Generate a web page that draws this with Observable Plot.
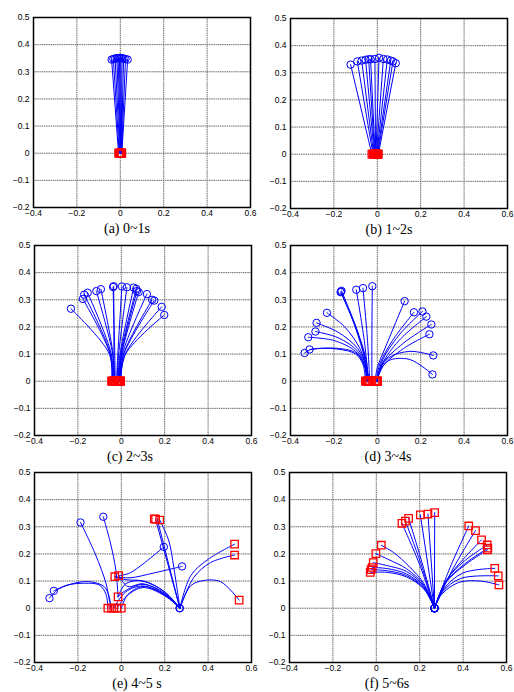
<!DOCTYPE html>
<html><head><meta charset="utf-8">
<script src="https://cdn.jsdelivr.net/npm/d3@7"></script>
<script src="https://cdn.jsdelivr.net/npm/@observablehq/plot@0.6"></script>
<style>
body{margin:0;background:#fff;}
#fig{position:relative;width:514px;height:692px;background:#fff;overflow:hidden;}
.cap{position:absolute;width:200px;text-align:center;font-family:"Liberation Serif",serif;font-size:14px;color:#000;line-height:16px;}
</style></head>
<body><div id="fig"></div>
<script>
// ---- data ----
const xTicks = [-0.4, -0.2, 0, 0.2, 0.4, 0.6];
const yTicks = [-0.2, -0.1, 0, 0.1, 0.2, 0.3, 0.4, 0.5];
const captions = ["(a) 0~1s", "(b) 1~2s", "(c) 2~3s", "(d) 3~4s", "(e) 4~5 s", "(f) 5~6s"];

// trajectories: flat lists x0,y0,x1,y1,...
const trajA = [
  [-0.008,0, -0.040,0.345], [-0.005,0, -0.032,0.347], [-0.002,0, -0.024,0.349],
  [0.0,0, -0.016,0.350], [0.002,0, -0.010,0.350], [0.002,0, -0.004,0.351],
  [0.003,0, 0.002,0.351], [0.004,0, 0.008,0.350], [0.005,0, 0.015,0.349],
  [0.006,0, 0.024,0.347], [0.007,0, 0.034,0.345]
];
const trajB = [
  [-0.025,0, -0.123,0.330], [-0.02,0, -0.092,0.342], [-0.017,0, -0.072,0.345],
  [-0.014,0, -0.054,0.348], [-0.012,0, -0.040,0.350], [-0.01,0, -0.031,0.350],
  [-0.008,0, -0.011,0.351], [-0.006,0, 0.008,0.355], [-0.004,0, 0.028,0.351],
  [-0.002,0, 0.046,0.349], [0.0,0, 0.062,0.345], [0.002,0, 0.072,0.342],
  [0.005,0, 0.085,0.335]
];
const trajC = [
  [-0.045,0, -0.055,0.1, -0.232,0.267],
  [-0.042,0, -0.052,0.1, -0.177,0.303],
  [-0.04,0, -0.05,0.1, -0.171,0.319],
  [-0.037,0, -0.046,0.1, -0.155,0.326],
  [-0.034,0, -0.04,0.1, -0.115,0.332],
  [-0.031,0, -0.038,0.1, -0.094,0.339],
  [-0.035,0, -0.034,0.1, -0.035,0.350],
  [-0.028,0, -0.03,0.1, -0.038,0.347],
  [-0.022,0, -0.016,0.1, 0.003,0.349],
  [-0.02,0, -0.012,0.1, 0.026,0.346],
  [-0.016,0, -0.006,0.1, 0.057,0.345],
  [-0.014,0, -0.003,0.1, 0.069,0.340],
  [-0.012,0, 0.0,0.1, 0.072,0.332],
  [-0.01,0, 0.002,0.1, 0.080,0.328],
  [-0.008,0, 0.005,0.1, 0.118,0.321],
  [-0.006,0, 0.01,0.1, 0.142,0.300],
  [-0.005,0, 0.012,0.1, 0.152,0.297],
  [-0.004,0, 0.018,0.1, 0.186,0.274],
  [-0.003,0, 0.02,0.1, 0.198,0.244]
];
const trajD = [
  [-0.055,0, -0.065,0.06, -0.1,0.1, -0.18,0.118, -0.3,0.118, -0.335,0.104],
  [-0.05,0, -0.06,0.06, -0.1,0.105, -0.2,0.122, -0.312,0.117],
  [-0.045,0, -0.06,0.06, -0.1,0.11, -0.2,0.15, -0.318,0.162],
  [-0.045,0, -0.055,0.05, -0.09,0.11, -0.18,0.16, -0.285,0.183],
  [-0.04,0, -0.05,0.05, -0.09,0.12, -0.18,0.18, -0.280,0.215],
  [-0.04,0, -0.05,0.05, -0.08,0.12, -0.15,0.2, -0.232,0.252],
  [-0.045,0, -0.055,0.08, -0.1,0.2, -0.169,0.328],
  [-0.042,0, -0.052,0.08, -0.098,0.2, -0.165,0.333],
  [-0.048,0, -0.058,0.08, -0.102,0.2, -0.167,0.330],
  [-0.04,0, -0.06,0.15, -0.097,0.337],
  [-0.035,0, -0.045,0.15, -0.066,0.343],
  [-0.025,0, -0.025,0.15, -0.023,0.350],
  [-0.01,0, 0.0,0.05, 0.04,0.13, 0.126,0.295],
  [-0.005,0, 0.01,0.06, 0.07,0.15, 0.169,0.254],
  [0.0,0, 0.02,0.07, 0.1,0.17, 0.208,0.257],
  [0.0,0, 0.02,0.06, 0.1,0.15, 0.226,0.238],
  [0.0,0, 0.02,0.06, 0.12,0.14, 0.249,0.209],
  [0.0,0, 0.02,0.05, 0.12,0.12, 0.240,0.173],
  [0.0,0, 0.005,0.03, 0.05,0.085, 0.15,0.11, 0.258,0.095],
  [0.0,0, 0.01,0.03, 0.05,0.075, 0.15,0.08, 0.254,0.025]
];
const trajE = [
  [-0.05,0, -0.055,0.04, -0.08,0.08, -0.14,0.097, -0.2,0.095, -0.29,0.07, -0.331,0.037],
  [-0.062,0, -0.07,0.05, -0.1,0.085, -0.17,0.092, -0.25,0.085, -0.311,0.064],
  [-0.045,0, -0.055,0.03, -0.07,0.09, -0.12,0.2, -0.188,0.316],
  [-0.015,0.042, -0.025,0.14, -0.05,0.24, -0.083,0.337],
  [-0.012,0.12, 0.04,0.13, 0.196,0.226],
  [-0.03,0.116, 0.04,0.112, 0.15,0.13, 0.28,0.154],
  [0.27,0, 0.2,0.06, 0.1,0.1, 0.02,0.09, -0.015,0.042],
  [0.27,0, 0.2,0.055, 0.1,0.088, 0.02,0.065, -0.015,0.042],
  [0.27,0, 0.2,0.05, 0.1,0.08, 0.03,0.05, 0.0,0.0],
  [0.27,0, 0.2,0.046, 0.1,0.076, 0.025,0.045, -0.02,0.0],
  [0.27,0, 0.2,0.048, 0.1,0.082, 0.02,0.06, -0.035,0.0],
  [0.27,0, 0.2,0.052, 0.1,0.09, 0.03,0.08, -0.012,0.12],
  [0.27,0, 0.2,0.06, 0.1,0.1, 0.02,0.105, -0.03,0.116],
  [0.27,0, 0.158,0.328],
  [0.27,0, 0.165,0.33],
  [0.27,0, 0.242,0.15, 0.219,0.248, 0.177,0.325],
  [0.27,0, 0.334,0.113, 0.411,0.168, 0.522,0.196],
  [0.27,0, 0.32,0.12, 0.4,0.18, 0.522,0.236],
  [0.27,0, 0.319,0.082, 0.373,0.101, 0.457,0.098, 0.543,0.03]
];
const circE = [[-0.188,0.316], [-0.083,0.337], [-0.311,0.064], [-0.331,0.037], [0.196,0.226], [0.28,0.154], [0.268,0], [0.27,0]];
const sqE = [[0.152,0.329], [0.158,0.328], [0.177,0.325], [0.522,0.236], [0.522,0.196], [0.543,0.03],
  [-0.03,0.116], [-0.012,0.12], [-0.015,0.042], [-0.062,0], [-0.045,0], [-0.035,0], [-0.02,0], [0.0,0]];
const trajF = [
  [0.268,0, 0.22,0.07, 0.14,0.115, 0.05,0.132, -0.028,0.132],
  [0.268,0, 0.22,0.073, 0.14,0.12, 0.05,0.138, -0.024,0.142],
  [0.268,0, 0.22,0.076, 0.14,0.126, 0.05,0.146, -0.019,0.150],
  [0.268,0, 0.22,0.08, 0.14,0.135, 0.05,0.157, -0.014,0.168],
  [0.268,0, 0.22,0.085, 0.14,0.145, 0.06,0.178, -0.002,0.201],
  [0.268,0, 0.22,0.09, 0.15,0.155, 0.08,0.205, 0.023,0.232],
  [0.268,0, 0.2,0.16, 0.118,0.313],
  [0.268,0, 0.205,0.165, 0.134,0.321],
  [0.268,0, 0.21,0.17, 0.149,0.331],
  [0.268,0, 0.203,0.344],
  [0.268,0, 0.238,0.347],
  [0.268,0, 0.269,0.352],
  [0.268,0, 0.34,0.15, 0.426,0.303],
  [0.268,0, 0.35,0.14, 0.457,0.286],
  [0.268,0, 0.33,0.11, 0.4,0.18, 0.485,0.252],
  [0.268,0, 0.32,0.1, 0.4,0.17, 0.511,0.233],
  [0.268,0, 0.32,0.095, 0.41,0.165, 0.514,0.221],
  [0.268,0, 0.315,0.09, 0.41,0.16, 0.512,0.215],
  [0.268,0, 0.31,0.07, 0.4,0.13, 0.546,0.147],
  [0.268,0, 0.305,0.06, 0.39,0.11, 0.562,0.119],
  [0.268,0, 0.3,0.05, 0.38,0.095, 0.48,0.1, 0.565,0.086]
];

// ---- helpers ----
function rows(trajs) {
  return trajs.flatMap((t, i) => {
    const p = [];
    for (let k = 0; k < t.length; k += 2) p.push({id: i, x: t[k], y: t[k + 1]});
    return p;
  });
}
const first = ts => ts.map(t => [t[0], t[1]]);
const last = ts => ts.map(t => [t[t.length - 2], t[t.length - 1]]);

const panels = [
  {traj: trajA, circ: last(trajA), sq: first(trajA)},
  {traj: trajB, circ: last(trajB), sq: first(trajB)},
  {traj: trajC, circ: last(trajC), sq: first(trajC)},
  {traj: trajD, circ: last(trajD), sq: first(trajD)},
  {traj: trajE, circ: circE, sq: sqE},
  {traj: trajF, circ: first(trajF), sq: last(trajF)}
];

// layout
const plotLeft = [33, 290, 34, 290, 34, 289];
const plotTop = [17, 18, 245, 245, 472, 472];
const capX = [127, 389, 130, 388, 137, 387];
const PW = 217, PH = 190, ML = 33, MT = 6, MR = 9, MB = 18;

const fig = document.getElementById("fig");
const fmt = d3.format("~g");
const blue = "#0000ff", red = "#ff0000";

panels.forEach((p, i) => {
  const svg = Plot.plot({
    width: ML + PW + MR, height: MT + PH + MB,
    marginLeft: ML, marginRight: MR, marginTop: MT, marginBottom: MB,
    style: {background: "transparent", overflow: "visible", fontFamily: "'Liberation Sans', Arial, sans-serif", fontSize: "8.5px", color: "#000"},
    x: {domain: [-0.4, 0.6]},
    y: {domain: [-0.2, 0.5]},
    marks: [
      Plot.ruleX(xTicks, {x: d => d, stroke: "#6a6a6a", strokeWidth: 1, strokeDasharray: "1.5,0.7"}),
      Plot.ruleY(yTicks, {y: d => d, stroke: "#6a6a6a", strokeWidth: 1, strokeDasharray: "1.5,0.7"}),
      Plot.axisX({ticks: xTicks, tickFormat: fmt, tickSize: 0, tickPadding: 2, label: null, fill: "#000"}),
      Plot.axisY({ticks: yTicks, tickFormat: fmt, tickSize: 0, tickPadding: 4, label: null, fill: "#000"}),
      Plot.line(rows(p.traj), {x: "x", y: "y", z: "id", curve: "catmull-rom", stroke: blue, strokeWidth: 1}),
      Plot.dot(p.sq, {x: d => d[0], y: d => d[1], symbol: "square", r: 4.2, stroke: red, strokeWidth: 1.3, fill: "none"}),
      Plot.dot(p.circ, {x: d => d[0], y: d => d[1], symbol: "circle", r: 3.7, stroke: blue, strokeWidth: 1, fill: "none"}),
      Plot.frame({stroke: "#000", strokeWidth: 1.5})
    ]
  });
  svg.style.position = "absolute";
  svg.style.left = (plotLeft[i] - ML) + "px";
  svg.style.top = (plotTop[i] - MT) + "px";
  fig.appendChild(svg);
  const cap = document.createElement("div");
  cap.className = "cap";
  cap.textContent = captions[i];
  cap.style.left = (capX[i] - 100) + "px";
  cap.style.top = (plotTop[i] + PH + 22 - 8) + "px";
  fig.appendChild(cap);
});
</script>
</body></html>
